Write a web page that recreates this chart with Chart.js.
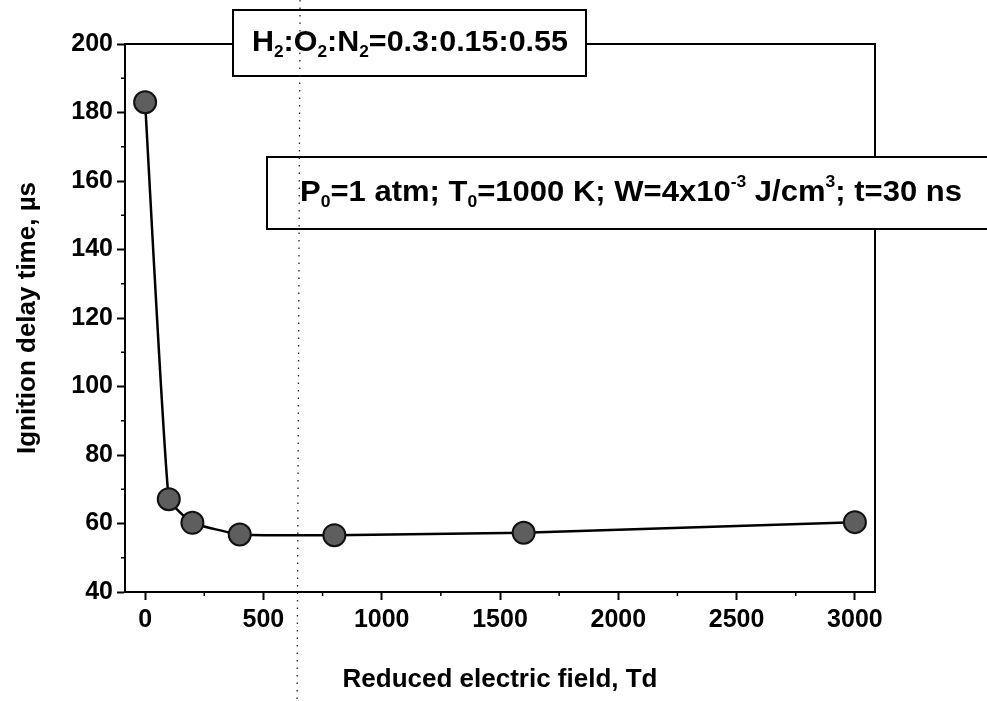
<!DOCTYPE html>
<html>
<head>
<meta charset="utf-8">
<script src="https://cdn.jsdelivr.net/npm/chart.js@4/dist/chart.umd.min.js"></script>
<style>
  html, body { margin: 0; padding: 0; background: #fff; }
  #wrap { width: 987px; height: 701px; position: relative; }
</style>
</head>
<body>
<div id="wrap"><canvas id="chart"></canvas></div>
<script>
// Reduced electric field (Td) and ignition delay (µs)
var fieldTd = [0, 100, 200, 400, 800, 1600, 3000];
var delayUs = [183, 67.1, 60.2, 56.8, 56.6, 57.3, 60.4];

// tick labels
var xTicks = [0, 500, 1000, 1500, 2000, 2500, 3000];
var yTicks = [40, 60, 80, 100, 120, 140, 160, 180, 200];

var xTitle = 'Reduced electric field, Td';
var yTitle = 'Ignition delay time, \u00b5s';
var foldLineTd = 655; // scan fold line (dotted)

// annotation texts, split into runs: [text, 'sub' | 'sup' | '']
var mixtureNote = [['H', ''], ['2', 'sub'], [':O', ''], ['2', 'sub'], [':N', ''], ['2', 'sub'], ['=0.3:0.15:0.55', '']];
var conditionsNote = [['P', ''], ['0', 'sub'], ['=1 atm; T', ''], ['0', 'sub'], ['=1000 K; W=4x10', ''], ['-3', 'sup'],
  [' J/cm', ''], ['3', 'sup'], ['; t=30 ns', '']];

var FONT = '"Liberation Sans", Arial, Helvetica, sans-serif';

function runWidth(ctx, runs) {
  var w = 0;
  runs.forEach(function (r) {
    ctx.font = r[1] ? 'bold 17px ' + FONT : 'bold 30px ' + FONT;
    w += ctx.measureText(r[0]).width;
  });
  return w;
}

function drawRuns(ctx, runs, x, baseline, targetWidth) {
  var natural = runWidth(ctx, runs);
  ctx.save();
  ctx.translate(x, baseline);
  ctx.scale(targetWidth / natural, 1);
  ctx.fillStyle = '#000';
  ctx.textBaseline = 'alphabetic';
  ctx.textAlign = 'left';
  var cx = 0;
  runs.forEach(function (r) {
    var dy = 0;
    if (r[1] === 'sub') { ctx.font = 'bold 17px ' + FONT; dy = 6; }
    else if (r[1] === 'sup') { ctx.font = 'bold 17px ' + FONT; dy = -14; }
    else { ctx.font = 'bold 30px ' + FONT; }
    ctx.fillText(r[0], cx, dy);
    cx += ctx.measureText(r[0]).width;
  });
  ctx.restore();
}

function noteBox(ctx, x1, y1, x2, y2) {
  ctx.save();
  ctx.fillStyle = '#fff';
  ctx.fillRect(x1, y1, x2 - x1, y2 - y1);
  ctx.strokeStyle = '#000';
  ctx.lineWidth = 2;
  ctx.strokeRect(x1, y1, x2 - x1, y2 - y1);
  ctx.restore();
}

function fixedTicks(values) {
  return function (scale) {
    scale.ticks = values.map(function (v) { return { value: v }; });
  };
}

var framePlugin = {
  id: 'frame',
  afterDraw: function (chart) {
    var ctx = chart.ctx;
    var a = chart.chartArea;
    var xs = chart.scales.x, ys = chart.scales.y;

    // top and right frame lines
    ctx.save();
    ctx.strokeStyle = '#000';
    ctx.lineWidth = 2;
    ctx.beginPath();
    ctx.moveTo(a.left, a.top);
    ctx.lineTo(a.right, a.top);
    ctx.lineTo(a.right, a.bottom);
    ctx.stroke();

    // minor ticks halfway between the labelled ones
    ctx.lineWidth = 1.5;
    ctx.beginPath();
    xs.ticks.forEach(function (t) {
      var v = t.value + 250;
      if (v < xs.max) {
        var px = xs.getPixelForValue(v);
        ctx.moveTo(px, a.bottom);
        ctx.lineTo(px, a.bottom + 4);
      }
    });
    ys.ticks.forEach(function (t) {
      var v = t.value + 10;
      if (v < ys.max) {
        var py = ys.getPixelForValue(v);
        ctx.moveTo(a.left, py);
        ctx.lineTo(a.left - 4, py);
      }
    });
    ctx.stroke();
    ctx.restore();

    // annotation boxes
    noteBox(ctx, 233, 10, 586, 76);
    drawRuns(ctx, mixtureNote, 252, 51, 316);
    noteBox(ctx, 267, 157, 1000, 229);
    drawRuns(ctx, conditionsNote, 300, 201, 662);

    // dotted fold line of the scanned page
    var fx = xs.getPixelForValue(foldLineTd);
    ctx.save();
    ctx.strokeStyle = '#222';
    ctx.lineWidth = 1.3;
    ctx.setLineDash([1.5, 6]);
    ctx.beginPath();
    ctx.moveTo(fx, 0);
    ctx.lineTo(fx - 3, chart.height);
    ctx.stroke();
    ctx.restore();
  }
};

var ctx = document.getElementById('chart').getContext('2d');

new Chart(ctx, {
  type: 'scatter',
  data: {
    datasets: [{
      data: fieldTd.map(function (x, i) { return { x: x, y: delayUs[i] }; }),
      showLine: true,
      borderColor: '#000',
      borderWidth: 2.5,
      tension: 0.12,
      pointRadius: 11,
      pointBorderWidth: 2,
      pointBorderColor: '#111',
      pointBackgroundColor: '#5e5e5e'
    }]
  },
  options: {
    responsive: true,
    maintainAspectRatio: false,
    animation: false,
    layout: { padding: { top: 44, right: 112, left: 0, bottom: 0 } },
    plugins: {
      legend: { display: false },
      tooltip: { enabled: false }
    },
    scales: {
      x: {
        type: 'linear',
        min: -85,
        max: 3085,
        afterBuildTicks: fixedTicks(xTicks),
        afterFit: function (s) { s.height = 109; },
        ticks: {
          color: '#000',
          padding: 5,
          maxRotation: 0,
          autoSkip: false,
          callback: function (v) { return String(v); },
          font: { family: FONT, size: 25, weight: 'bold' }
        },
        grid: { drawOnChartArea: false, drawTicks: true, tickLength: 8, tickWidth: 2, tickColor: '#000' },
        border: { display: true, color: '#000', width: 2 },
        title: {
          display: true,
          text: xTitle,
          color: '#000',
          padding: { top: 0, bottom: 6 },
          font: { family: FONT, size: 26, weight: 'bold' }
        }
      },
      y: {
        min: 40,
        max: 200,
        afterBuildTicks: fixedTicks(yTicks),
        afterFit: function (s) { s.width = 125; },
        ticks: {
          color: '#000',
          padding: 4,
          autoSkip: false,
          callback: function (v) { return String(v); },
          font: { family: FONT, size: 25, weight: 'bold' }
        },
        grid: { drawOnChartArea: false, drawTicks: true, tickLength: 8, tickWidth: 2, tickColor: '#000' },
        border: { display: true, color: '#000', width: 2 },
        title: {
          display: true,
          text: yTitle,
          color: '#000',
          padding: { top: 12, bottom: 0 },
          font: { family: FONT, size: 26, weight: 'bold' }
        }
      }
    }
  },
  plugins: [framePlugin]
});
</script>
</body>
</html>
